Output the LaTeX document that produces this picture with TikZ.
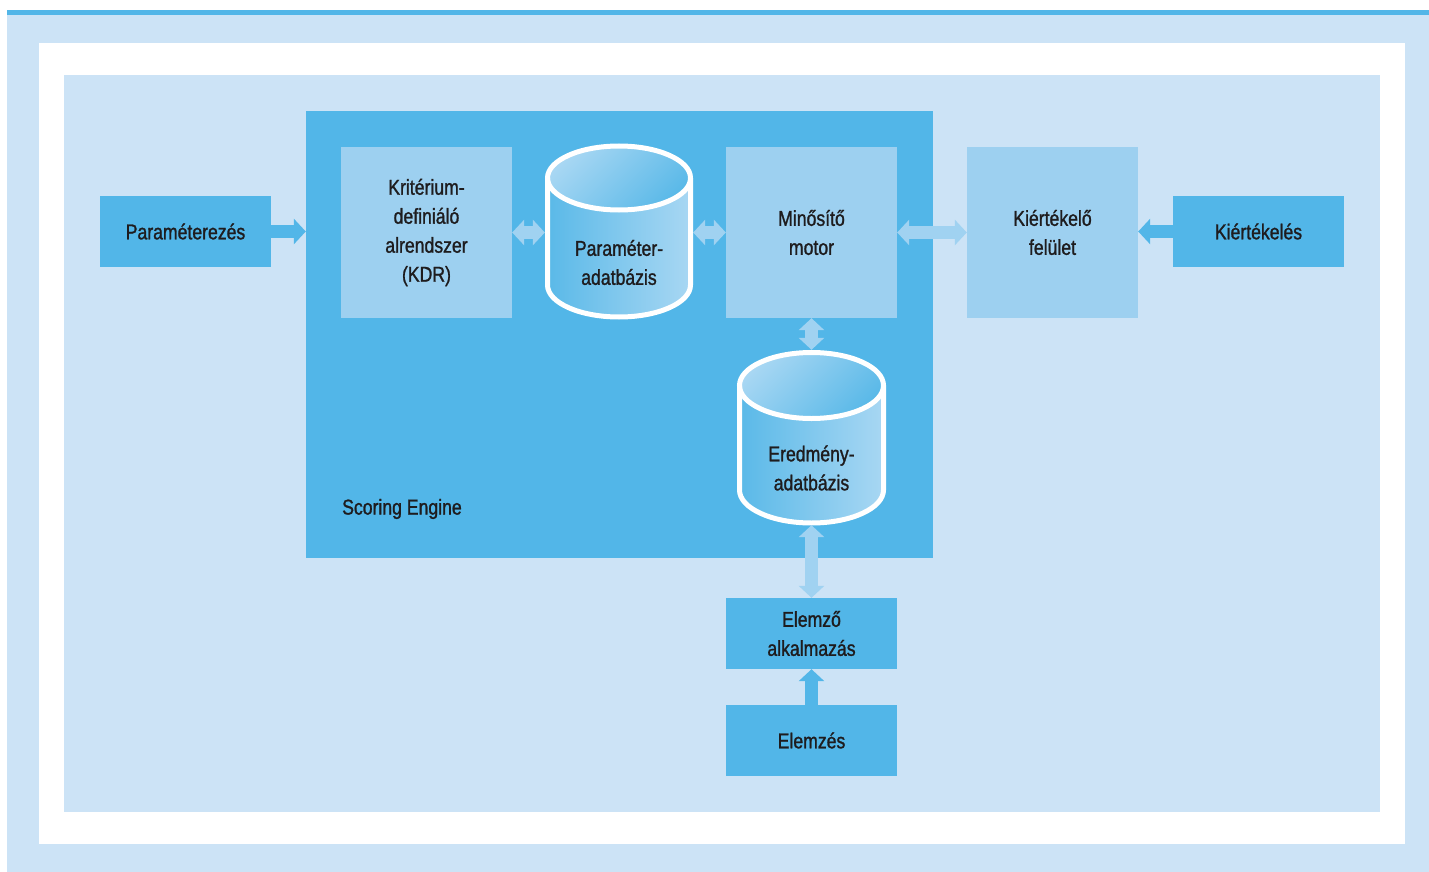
\documentclass[tikz,border=0pt]{standalone}
\usepackage{fontspec}
\setmainfont{Liberation Sans}[FakeStretch=0.82, FakeBold=1.2]
\usetikzlibrary{arrows.meta}
\definecolor{bgl}{RGB}{204,227,246}
\definecolor{bblue}{RGB}{82,182,232}
\definecolor{lbox}{RGB}{157,208,240}
\definecolor{txt}{RGB}{30,28,30}
\definecolor{arr}{RGB}{160,210,241}
\definecolor{cylL}{RGB}{168,215,243}
\definecolor{cylD}{RGB}{90,185,232}
\newcommand\dbcyl[5]{% cx, top cy, bottom cy, rx, ry
  \shade[left color=cylD, right color=cylL] (#1-#4,#2) rectangle (#1+#4,#3);
  \shade[left color=cylD, right color=cylL] (#1,#3) ellipse[x radius=#4, y radius=#5];
  \shade[top color=cylL, bottom color=cylD, shading angle=45] (#1,#2) ellipse[x radius=#4, y radius=#5];
  \draw[white, line width=5pt] (#1-#4,#2) -- (#1-#4,#3) arc[start angle=180, end angle=0, x radius=#4, y radius=#5] -- (#1+#4,#2);
  \draw[white, line width=5pt] (#1,#2) ellipse[x radius=#4, y radius=#5];
}
\begin{document}
\begin{tikzpicture}[x=1pt,y=-1pt,
  lbl/.style={text=txt, align=center, font=\fontsize{21.5}{29}\selectfont, inner sep=0pt},
  bigbox/.style={lbl, minimum width=171pt, minimum height=171pt, fill=lbox},
  smallbox/.style={lbl, minimum width=171pt, minimum height=71pt, fill=bblue},
  blockarr/.style={line width=13pt, -{Triangle[length=12pt, width=25pt]}},
  darr/.style={draw=bblue, blockarr},
  larr/.style={draw=arr, line width=13pt, {Triangle[length=12pt, width=25pt]}-{Triangle[length=12pt, width=25pt]}},
]
\useasboundingbox (0,0) rectangle (1429,872);
\fill[white] (0,0) rectangle (1429,872);
\fill[bgl] (7,10) rectangle (1429,872);
\fill[bblue] (7,10) rectangle (1429,15);
\fill[white] (39,43) rectangle (1405,844);
\fill[bgl] (64,75) rectangle (1380,812);

% Scoring engine
\node (se) [fill=bblue, minimum width=627pt, minimum height=447pt, inner sep=0pt] at (619.5,334.5) {};
\node (sel) [lbl, anchor=west] at (342,509) {Scoring Engine};

% boxes
\node (kdr) [bigbox] at (426.5,232.5) {Kritérium-\\definiáló\\alrendszer\\(KDR)};
\node (mot) [bigbox] at (811.5,232.5) {Minősítő\\motor};
\node (kf) [bigbox] at (1052.5,232.5) {Kiértékelő\\felület};
\node (par) [smallbox] at (185.5,231.5) {Paraméterezés};
\node (kert) [smallbox] at (1258.5,231.5) {Kiértékelés};
\node (ela) [smallbox] at (811.5,633.5) {Elemző\\alkalmazás};
\node (elz) [smallbox] at (811.5,740.5) {Elemzés};

% databases
\dbcyl{619}{178}{285}{71.5}{32}
\node (pdb) [minimum width=148pt, minimum height=177pt, inner sep=0pt] at (619,231.5) {};
\node (pdbt) [lbl] at (619,262.5) {Paraméter-\\adatbázis};
\dbcyl{811.5}{385.5}{490}{72}{33}
\node (edb) [minimum width=149pt, minimum height=175pt, inner sep=0pt] at (811.5,437.5) {};
\node (edbt) [lbl] at (811.5,468) {Eredmény-\\adatbázis};

% connectors
\draw[darr] (par.east) -- (par.east -| se.west);
\draw[darr] (kert.west) -- (kert.west -| kf.east);
\draw[darr] (elz.north) -- (ela.south);
\draw[larr] (kdr.east) -- (kdr.east -| pdb.west);
\draw[larr] (mot.west -| pdb.east) -- (mot.west);
\draw[larr] (mot.east) -- (kf.west);
\draw[larr] (mot.south) -- (edb.north);
\draw[larr] (edb.south) -- (ela.north);
\end{tikzpicture}
\end{document}
